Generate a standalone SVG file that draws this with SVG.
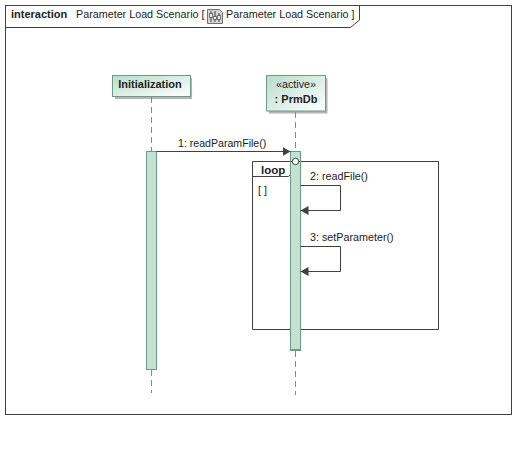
<svg xmlns="http://www.w3.org/2000/svg" width="526" height="454" viewBox="0 0 526 454">
<style>
text{font-family:"Liberation Sans",Arial,sans-serif;font-size:10.75px;fill:#222}
.b{font-weight:bold;font-size:11px}
.frame{fill:none;stroke:#404040;stroke-width:1}
.life{stroke:#6a9a88;stroke-width:1;stroke-dasharray:6 4;fill:none}
.act{fill:#c3e2d3;stroke:#6a9a88;stroke-width:1}
.head{fill:url(#g);stroke:#6a9a88;stroke-width:1}
.shadow{fill:#b4b4b4}
.msg{fill:none;stroke:#404040;stroke-width:1}
</style>
<defs>
<linearGradient id="g" x1="0" y1="0" x2="1" y2="1"><stop offset="0" stop-color="#b9dccb"/><stop offset="1" stop-color="#ffffff"/></linearGradient>
<marker id="arr" markerWidth="9" markerHeight="10" refX="8" refY="4.500" orient="auto" markerUnits="userSpaceOnUse"><path d="M0,0L8,4.500L0,9Z" fill="#404040"/></marker>
</defs>
<rect width="526" height="454" fill="#fff"/>
<g id="frame">
<rect class="frame" x="5.500" y="5.500" width="506" height="409"/>
<path class="frame" d="M5.500,27.500H350.500L359.500,20V5.500"/>
<text x="11" y="18" class="b">interaction</text>
<text x="76" y="18">Parameter Load Scenario [</text>
<g id="icon"><path d="M207.500,9.500H219.500L222.500,12.500V23.500H207.500Z" fill="#d4d4d4" stroke="#707070"/><path d="M211,11V22M215,11V22M219,13V22" stroke="#404040" stroke-width="1"/><path d="M209.500,13.500h3v4h-3zM213.500,16.500h3v3h-3zM217.500,15.500h3v4h-3z" fill="#eee" stroke="#404040" stroke-width=".7"/></g>
<text x="226" y="18">Parameter Load Scenario ]</text>
</g>
<g id="node-initialization">
<rect class="shadow" x="115" y="78" width="77" height="21"/>
<rect class="head" x="112.500" y="75.500" width="78" height="21"/>
<text x="150" y="88" text-anchor="middle" class="b">Initialization</text>
<path class="life" d="M151.500,97V151M151.500,370V393"/>
<rect class="act" x="146.500" y="151.500" width="10" height="218"/>
</g>
<g id="node-prmdb">
<rect class="shadow" x="269" y="78" width="58.500" height="35.500"/>
<rect class="head" x="266.500" y="75.500" width="59" height="35.500"/>
<text x="296" y="88" text-anchor="middle">«active»</text>
<text x="296" y="103" text-anchor="middle" class="b">: PrmDb</text>
<path class="life" d="M295.500,112V151M295.500,351V395"/>
<rect class="act" x="290.500" y="151.500" width="10" height="198"/>
<rect x="290" y="349" width="11" height="2" fill="#6a9a88"/>
</g>
<g id="fragment-loop">
<path class="frame" d="M252.500,161.500H438.500V329.500H252.500Z"/>
<path class="frame" d="M252.500,176.500H288.500L291,174V161.500"/>
<text x="261" y="174" class="b" style="font-size:11.500px">loop</text>
<text x="258" y="194">[ ]</text>
</g>
<rect class="act" x="290.500" y="162" width="10" height="187" style="stroke:none"/>
<path d="M290.500,151.500V349M300.500,151.500V349" stroke="#6a9a88" fill="none"/>
<circle cx="295.500" cy="161.500" r="3.200" fill="#fff" stroke="#404040"/>
<g id="connectors">
<path class="msg" d="M156.500,151.500H290.500" marker-end="url(#arr)"/>
<path class="msg" d="M300.500,185.500H340.500V210.500H300.500" marker-end="url(#arr)"/>
<path class="msg" d="M300.500,246.500H340.500V271.500H300.500" marker-end="url(#arr)"/>
<text x="178" y="146.500" style="font-size:10.600px">1:  readParamFile()</text>
<text x="310" y="180">2:  readFile()</text>
<text x="310" y="241">3:  setParameter()</text>
</g>
</svg>
